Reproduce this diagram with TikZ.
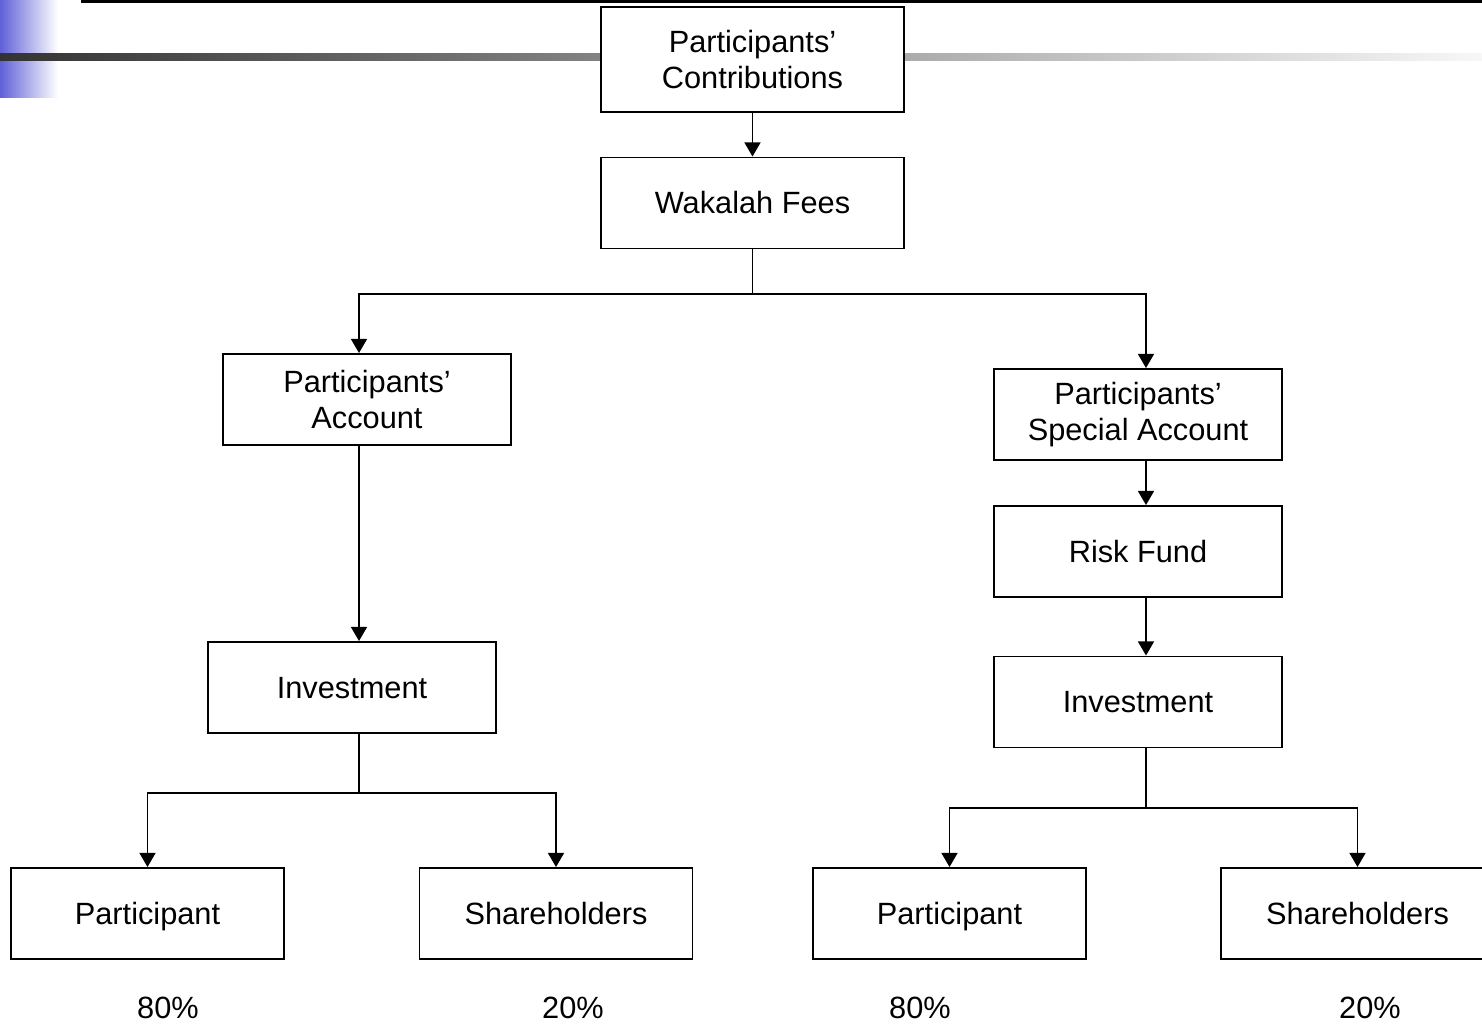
\documentclass[tikz,border=0pt]{standalone}
\usepackage{fontspec}
\setmainfont{Liberation Sans}
\usepackage{tikz}
\usetikzlibrary{arrows.meta}
\definecolor{slideblue}{RGB}{96,96,216}
\tikzstyle{block}=[draw, rectangle, fill=white, line width=1.1pt, align=center, inner sep=0pt, minimum height=1.82cm, font=\fontsize{17.5}{20.5}\selectfont]
\tikzstyle{oneline}=[text height=12.5pt, text depth=0pt]
\tikzstyle{flow}=[line width=1.1pt, -{Triangle[width=9pt,length=8pt]}]
\tikzstyle{share}=[font=\fontsize{17.5}{20.5}\selectfont]

\begin{document}
\begin{tikzpicture}[x=0.02cm, y=-0.02cm]
		\useasboundingbox (0,0) rectangle (1482,1024);
		% slide decoration
		\shade[left color=slideblue, right color=white] (0,0) rectangle (58,98);
		\shade[left color=black!80, right color=black!3] (0,54) rectangle (1482,61);
		\draw[line width=2pt] (81,1) -- (1482,1);
		% boxes
		\node[block, minimum width=6.06cm, minimum height=2.1cm] (C) at (752.5,59.5) {Participants’\\Contributions};
		\node[block, oneline, minimum width=6.06cm] (W) at (752.5,203) {Wakalah Fees};
		\node[block, minimum width=5.76cm] (PA) at (367,399.5) {Participants’\\Account};
		\node[block, minimum width=5.76cm] (PSA) at (1138,414.5) {Participants’\\Special Account};
		\node[block, oneline, minimum width=5.76cm] (RF) at (1138,551.5) {Risk Fund};
		\node[block, oneline, minimum width=5.76cm] (IL) at (352,687.5) {Investment};
		\node[block, oneline, minimum width=5.76cm] (IR) at (1138,702) {Investment};
		\node[block, oneline, minimum width=5.46cm] (PL) at (147.5,913.5) {Participant};
		\node[block, oneline, minimum width=5.46cm] (SL) at (556,913.5) {Shareholders};
		\node[block, oneline, minimum width=5.46cm] (PR) at (949.5,913.5) {Participant};
		\node[block, oneline, minimum width=5.46cm] (SR) at (1357.5,913.5) {Shareholders};
		% shares
		\node[share] (pl) at (168,1008) {80\%};
		\node[share] (sl) at (573,1008) {20\%};
		\node[share] (pr) at (920,1008) {80\%};
		\node[share] (sr) at (1370,1008) {20\%};
		% split points
		\coordinate (w) at (752.5,294);
		\coordinate (il) at (359,793);
		\coordinate (ir) at (1146,808);
		% connectors
		\draw[flow] (C) -- (W);
		\draw[line width=1.1pt] (W.south) -- (w);
		\draw[flow] (w) -| ([xshift=-0.16cm]PA.north);
		\draw[flow] (w) -| ([xshift=0.16cm]PSA.north);
		\draw[flow] ([xshift=-0.16cm]PA.south) -- ([xshift=-0.16cm]PA.south |- IL.north);
		\draw[flow] ([xshift=0.16cm]PSA.south) -- ([xshift=0.16cm]RF.north);
		\draw[flow] ([xshift=0.16cm]RF.south) -- ([xshift=0.16cm]IR.north);
		\draw[line width=1.1pt] (il |- IL.south) -- (il);
		\draw[flow] (il) -| (PL.north);
		\draw[flow] (il) -| (SL.north);
		\draw[line width=1.1pt] (ir |- IR.south) -- (ir);
		\draw[flow] (ir) -| (PR.north);
		\draw[flow] (ir) -| (SR.north);
\end{tikzpicture}
\end{document}
